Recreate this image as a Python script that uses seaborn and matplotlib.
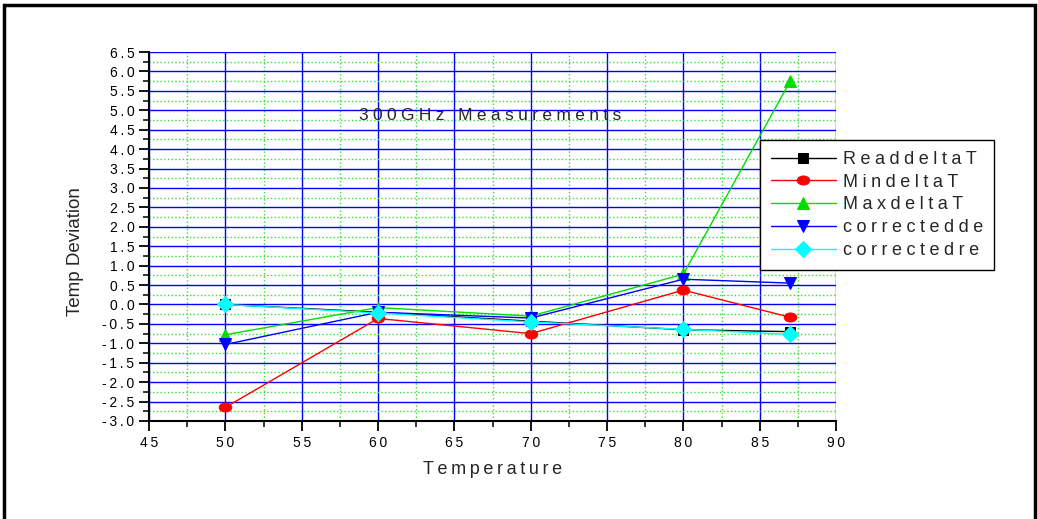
import matplotlib
matplotlib.use("Agg")
import matplotlib.pyplot as plt
from matplotlib.ticker import MultipleLocator, FuncFormatter
from matplotlib.patches import Rectangle
from matplotlib.path import Path
import seaborn as sns
import pandas as pd
import numpy as np

temperature = [50, 60, 70, 80, 87]
read_delta = [0.0, -0.2, -0.43, -0.65, -0.7]
min_delta = [-2.65, -0.36, -0.75, 0.37, -0.33]
max_delta = [-0.78, -0.08, -0.3, 0.78, 5.75]
corrected_de = [-1.03, -0.2, -0.35, 0.65, 0.55]
corrected_re = [0.0, -0.22, -0.45, -0.64, -0.77]

series_names = ["ReaddeltaT", "MindeltaT", "MaxdeltaT", "correctedde", "correctedre"]
series_values = [read_delta, min_delta, max_delta, corrected_de, corrected_re]
colors = ["#000000", "#ff0000", "#00dd00", "#0000ff", "#00ffff"]

# slightly flattened circle marker
_circ = Path.unit_circle()
ellipse = Path(_circ.vertices * np.array([1.0, 0.72]), _circ.codes)
markers = ["s", ellipse, "^", "v", "D"]
marker_sizes = [7.5, 9, 8.5, 8.5, 8]


def spaced(s, sep="\u2005"):
    return sep.join(s)


sns.set_style("white")
plt.rcParams["font.family"] = ["Liberation Sans", "DejaVu Sans"]

fig = plt.figure(figsize=(10.38, 5.19), dpi=100)
ax = fig.add_axes([149 / 1038, 1 - 421 / 519, 687 / 1038, 369 / 519])

# outer frame around the whole figure
fig.patches.append(Rectangle((0.004, -0.01), 0.993, 1.0, transform=fig.transFigure,
                             fill=False, edgecolor="black", linewidth=2.5))

for name, vals, c, m, ms in zip(series_names, series_values, colors, markers, marker_sizes):
    df = pd.DataFrame({"Temperature": temperature, "value": vals})
    sns.lineplot(data=df, x="Temperature", y="value", ax=ax, color=c, marker=m,
                 markersize=ms, markeredgecolor=c, linewidth=1,
                 label=spaced(name), zorder=3)

ax.set_xlim(45, 90)
ax.set_ylim(-3.0, 6.5)
ax.xaxis.set_major_locator(MultipleLocator(5))
ax.xaxis.set_minor_locator(MultipleLocator(2.5))
ax.yaxis.set_major_locator(MultipleLocator(0.5))
ax.yaxis.set_minor_locator(MultipleLocator(0.25))
ax.xaxis.set_major_formatter(FuncFormatter(lambda v, p: spaced(f"{v:.0f}", "\u2009")))
ax.yaxis.set_major_formatter(FuncFormatter(
    lambda v, p: spaced(f"{v:.1f}".replace("-0.0", "0.0"), "\u2009")))

ax.grid(which="major", color="#0000ff", linestyle="-", linewidth=1, zorder=0)
ax.grid(which="minor", color="#33e033", linestyle=":", linewidth=1, zorder=0)
ax.set_axisbelow(True)

for side in ("top", "right"):
    ax.spines[side].set_visible(False)
for side in ("left", "bottom"):
    ax.spines[side].set_color("black")
    ax.spines[side].set_linewidth(1.5)

ax.tick_params(which="major", direction="out", length=7, width=1.3,
               labelsize=10, colors="black", left=True, bottom=True)
ax.tick_params(which="minor", direction="out", length=4, width=1.3,
               left=True, bottom=True)

ax.set_xlabel(spaced("Temperature", "\u2009"), fontsize=13)
ax.xaxis.set_label_coords(0.5, -0.108)
ax.set_ylabel("Temp Deviation", fontsize=13.5)
ax.yaxis.set_label_coords(-0.095, 0.46)

ax.text(0.496, 0.829, spaced("300GHz Measurements"), transform=ax.transAxes,
        ha="center", va="center", fontsize=12.5, zorder=4)

leg = ax.legend(loc="upper left", bbox_to_anchor=(611 / 687, 1 - 88 / 369),
                frameon=True, fancybox=False, framealpha=1, edgecolor="black",
                fontsize=13, handlelength=3.6, borderpad=0.6, labelspacing=0.32,
                handletextpad=0.4, borderaxespad=0)
leg.get_frame().set_linewidth(1)
leg.set_zorder(5)

fig.savefig("out.png", dpi=100)
